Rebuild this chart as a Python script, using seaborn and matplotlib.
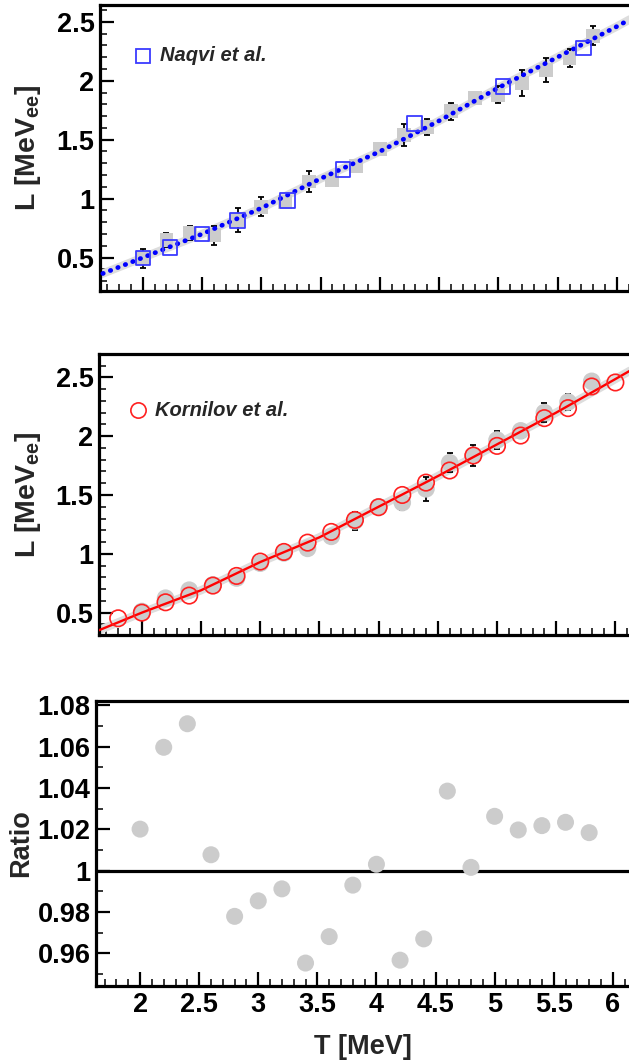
import matplotlib
matplotlib.use("Agg")
import matplotlib.pyplot as plt
import numpy as np
import pandas as pd
import seaborn as sns
from matplotlib.ticker import MultipleLocator, FuncFormatter

# ---------------- data ----------------
T_points = [2.0, 2.2, 2.4, 2.6, 2.8, 3.0, 3.2, 3.4, 3.6, 3.8,
            4.0, 4.2, 4.4, 4.6, 4.8, 5.0, 5.2, 5.4, 5.6, 5.8]

# top panel: this work (grey squares) with error bars
top_L = [0.495, 0.65, 0.71, 0.69, 0.82, 0.93, 0.975, 1.145, 1.16, 1.28,
         1.42, 1.54, 1.607, 1.74, 1.853, 1.881, 1.98, 2.093, 2.193, 2.382]
top_err = [0.08, 0.06, 0.06, 0.08, 0.10, 0.08, 0.03, 0.09, 0.03, 0.03,
           0.03, 0.09, 0.07, 0.07, 0.03, 0.07, 0.11, 0.10, 0.08, 0.08]

naqvi_T = [2.0, 2.23, 2.5, 2.8, 3.22, 3.69, 4.29, 5.04, 5.72]
naqvi_L = [0.495, 0.588, 0.699, 0.814, 0.984, 1.245, 1.635, 1.952, 2.277]

top_fit_T = [1.6, 2.0, 2.5, 3.0, 3.5, 4.0, 4.5, 5.0, 5.5, 6.0, 6.2]
top_fit_L = [0.34, 0.50, 0.70, 0.92, 1.17, 1.40, 1.66, 1.94, 2.20, 2.46, 2.57]

# middle panel
korn_T = [1.8, 2.0, 2.2, 2.4, 2.6, 2.8, 3.0, 3.2, 3.4, 3.6, 3.8,
          4.0, 4.2, 4.4, 4.6, 4.8, 5.0, 5.2, 5.4, 5.6, 5.8, 6.0]
korn_L = [0.452, 0.50, 0.588, 0.645, 0.73, 0.812, 0.934, 1.016, 1.095, 1.186, 1.288,
          1.396, 1.50, 1.605, 1.708, 1.835, 1.917, 2.005, 2.153, 2.238, 2.422, 2.456]

mid_L = [0.51, 0.623, 0.691, 0.736, 0.794, 0.92, 1.007, 1.046, 1.148, 1.279,
         1.40, 1.435, 1.552, 1.774, 1.838, 1.967, 2.045, 2.20, 2.29, 2.466]
mid_err = [0.03, 0.03, 0.03, 0.03, 0.03, 0.03, 0.03, 0.03, 0.03, 0.08,
           0.03, 0.06, 0.10, 0.08, 0.09, 0.08, 0.06, 0.08, 0.07, 0.03]

mid_fit_T = [1.6, 2.0, 2.5, 3.0, 3.5, 4.0, 4.5, 5.0, 5.5, 6.0, 6.2]
mid_fit_L = [0.335, 0.50, 0.69, 0.93, 1.14, 1.40, 1.66, 1.93, 2.20, 2.485, 2.60]

# bottom panel: ratio
ratio = [1.0201, 1.0597, 1.0711, 1.0077, 0.9779, 0.9854, 0.9912, 0.9553, 0.9681, 0.9930,
         1.0031, 0.9567, 0.9670, 1.0385, 1.0016, 1.0263, 1.0197, 1.0218, 1.0234, 1.0184]

# ---------------- style ----------------
sns.set_theme(style="ticks")
plt.rcParams["font.family"] = ["Liberation Sans", "DejaVu Sans"]
plt.rcParams["font.weight"] = "bold"
plt.rcParams["axes.labelweight"] = "bold"
plt.rcParams["mathtext.fontset"] = "custom"
plt.rcParams["mathtext.rm"] = "Liberation Sans:bold"
plt.rcParams["mathtext.it"] = "Liberation Sans:bold:italic"
plt.rcParams["mathtext.bf"] = "Liberation Sans:bold"

W, H = 629, 1063
fig = plt.figure(figsize=(W / 100, H / 100), dpi=100)
fig.patch.set_facecolor("white")


def add_ax(left, top, bottom):
    return fig.add_axes([left / W, 1 - bottom / H, (W - left) / W + 0.002, (bottom - top) / H])


ax1 = add_ax(100, 5, 291)
ax2 = add_ax(99, 354, 635)
ax3 = add_ax(96, 701, 986)

GREY = "#cccccc"
fmt = FuncFormatter(lambda v, p: f"{v:g}")


def style(ax, ymajor, yminor, xlabels):
    ax.set_facecolor("white")
    for s in ["left", "bottom", "top"]:
        ax.spines[s].set_linewidth(2.3)
        ax.spines[s].set_color("black")
    ax.spines["right"].set_visible(False)
    ax.xaxis.set_major_locator(MultipleLocator(0.5))
    ax.xaxis.set_minor_locator(MultipleLocator(0.1))
    ax.yaxis.set_major_locator(MultipleLocator(ymajor))
    ax.yaxis.set_minor_locator(MultipleLocator(yminor))
    ax.yaxis.set_major_formatter(fmt)
    ax.xaxis.set_major_formatter(fmt)
    ax.tick_params(which="major", direction="in", length=10, width=1.6,
                   left=True, bottom=True, top=False, right=False,
                   labelsize=19.5, pad=4, colors="black")
    ax.tick_params(which="minor", direction="in", length=5, width=1.3,
                   left=True, bottom=True, top=False, right=False)
    ax.tick_params(axis="x", labelbottom=xlabels)
    ax.set_xlabel("")
    ax.set_ylabel("")
    ax.grid(False)


# ---------------- top panel ----------------
sns.lineplot(x=top_fit_T, y=top_fit_L, ax=ax1, color="#dddddd", lw=6, sort=False,
             estimator=None, zorder=1)
ax1.errorbar(T_points, top_L, yerr=top_err, fmt="none", ecolor="black",
             elinewidth=1.3, capsize=2, capthick=1.3, zorder=1.5)
sns.scatterplot(x=T_points, y=top_L, ax=ax1, marker="s", s=100, color=GREY,
                edgecolor="none", zorder=2)
sns.lineplot(x=top_fit_T, y=top_fit_L, ax=ax1, color="#0000ff", lw=3.4,
             sort=False, estimator=None, zorder=4)
ax1.lines[-1].set_linestyle((0, (0.1, 1.6)))
ax1.lines[-1].set_dash_capstyle("round")
sns.scatterplot(x=naqvi_T, y=naqvi_L, ax=ax1, marker="s", s=110, facecolor="none",
                edgecolor="#3a3aff", linewidth=1.3, zorder=5)
ax1.set_xlim(1.639, 1.639 + 529 / 118.25)
ax1.set_ylim(0.217, 2.642)
style(ax1, 0.5, 0.1, False)
ax1.set_ylabel(r"L [MeV$_{\mathrm{ee}}$]", fontsize=20.5, fontweight="bold")
ax1.yaxis.set_label_coords(-0.107, 0.5)
ax1.plot([0.081], [0.822], transform=ax1.transAxes, marker="s", ms=10.5,
         mfc="none", mec="#3a3aff", mew=1.3, ls="")
ax1.text(0.113, 0.822, "Naqvi et al.", transform=ax1.transAxes, fontsize=14.5,
         fontweight="bold", fontstyle="italic", va="center", ha="left")

# ---------------- middle panel ----------------
sns.lineplot(x=mid_fit_T, y=mid_fit_L, ax=ax2, color="#dddddd", lw=6, sort=False,
             estimator=None, zorder=1)
ax2.errorbar(T_points, mid_L, yerr=mid_err, fmt="none", ecolor="black",
             elinewidth=1.3, capsize=2, capthick=1.3, zorder=1.5)
sns.scatterplot(x=T_points, y=mid_L, ax=ax2, marker="o", s=160, color=GREY,
                edgecolor="none", zorder=2)
sns.lineplot(x=mid_fit_T, y=mid_fit_L, ax=ax2, color="#ff0000", lw=1.7, sort=False,
             estimator=None, zorder=4)
sns.scatterplot(x=korn_T, y=korn_L, ax=ax2, marker="o", s=140, facecolor="none",
                edgecolor="#ff2020", linewidth=1.2, zorder=5)
ax2.set_xlim(1.638, 1.638 + 530 / 118.1)
ax2.set_ylim(0.31, 2.698)
style(ax2, 0.5, 0.1, False)
ax2.set_ylabel(r"L [MeV$_{\mathrm{ee}}$]", fontsize=20.5, fontweight="bold")
ax2.yaxis.set_label_coords(-0.105, 0.5)
ax2.plot([0.073], [0.80], transform=ax2.transAxes, marker="o", ms=11,
         mfc="none", mec="#ff2020", mew=1.2, ls="")
ax2.text(0.106, 0.80, "Kornilov et al.", transform=ax2.transAxes, fontsize=14.5,
         fontweight="bold", fontstyle="italic", va="center", ha="left")

# ---------------- bottom panel ----------------
ax3.axhline(1.0, color="black", lw=2.3, zorder=1)
sns.scatterplot(x=T_points, y=ratio, ax=ax3, marker="o", s=150, color=GREY,
                edgecolor="none", zorder=2)
ax3.set_xlim(1.627, 1.627 + 533 / 117.9)
ax3.set_ylim(0.9442, 1.0821)
style(ax3, 0.02, 0.01, True)
ax3.set_ylabel("Ratio", fontsize=19.5, fontweight="bold")
ax3.yaxis.set_label_coords(-0.115, 0.5)
ax3.set_xlabel("T [MeV]", fontsize=19.5, fontweight="bold", labelpad=12)

fig.savefig("out.png", dpi=100, facecolor="white")
